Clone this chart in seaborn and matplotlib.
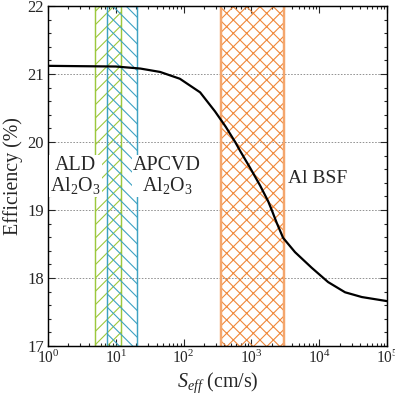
import numpy as np
import pandas as pd
import matplotlib
matplotlib.use('Agg')
import matplotlib.pyplot as plt
from matplotlib.ticker import MultipleLocator, LogLocator
import seaborn as sns

# curve
s_eff = [1, 3, 10, 23, 45, 88, 175, 290, 420, 575, 680, 955, 1340, 1760,
         1990, 2360, 2930, 4390, 7740, 13500, 24000, 42400, 100000]
efficiency = [21.12, 21.115, 21.11, 21.08, 21.03, 20.93, 20.73, 20.45, 20.22,
              20.0, 19.87, 19.62, 19.36, 19.13, 19.00, 18.81, 18.59, 18.38,
              18.15, 17.94, 17.79, 17.72, 17.66]

# shaded ranges (cm/s)
ald_range = [5, 12]
apcvd_range = [7.5, 20.5]
bsf_range = [350, 3050]

df = pd.DataFrame({'S': s_eff, 'eff': efficiency})

sns.set_theme(style='ticks')
plt.rcParams['font.family'] = ['serif']
plt.rcParams['font.serif'] = ['Liberation Serif', 'DejaVu Serif']
plt.rcParams['mathtext.fontset'] = 'custom'
plt.rcParams['mathtext.rm'] = 'Liberation Serif'
plt.rcParams['mathtext.it'] = 'Liberation Serif:italic'
plt.rcParams['hatch.linewidth'] = 1.0

fig = plt.figure(figsize=(395/80, 394/80), dpi=80)
ax = fig.add_axes([0.1215, 0.1218, 0.8585, 0.863])

ax.axvspan(ald_range[0], ald_range[1], facecolor='none', edgecolor='#9cc83c',
           hatch='//', linewidth=1.3, zorder=1)
ax.axvspan(apcvd_range[0], apcvd_range[1], facecolor='none', edgecolor='#3ea2c2',
           hatch='\\\\', linewidth=1.3, zorder=1)
ax.axvspan(bsf_range[0], bsf_range[1], facecolor='none', edgecolor='#f0883a',
           hatch='xx', linewidth=0, zorder=1)
for xv in bsf_range:
    ax.axvline(xv, color='#f4a66c', linewidth=2.2, zorder=1)

for yv in [18, 19, 20, 21]:
    ax.axhline(yv, color='#777777', linestyle=(0, (2, 2)), linewidth=0.7, zorder=0)

sns.lineplot(data=df, x='S', y='eff', color='black', linewidth=2, ax=ax, zorder=3)

ax.set_xscale('log')
ax.set_xlim(1, 1e5)
ax.set_ylim(17, 22)
ax.yaxis.set_major_locator(MultipleLocator(1))
ax.yaxis.set_minor_locator(MultipleLocator(0.2))
ax.xaxis.set_minor_locator(LogLocator(base=10, subs=np.arange(2, 10), numticks=20))

ax.tick_params(which='both', direction='in', top=True, right=True, width=1)
ax.tick_params(axis='y', labelsize=15)
ax.tick_params(axis='x', labelsize=14)
ax.tick_params(which='major', length=6)
ax.tick_params(which='minor', length=3)
for sp in ax.spines.values():
    sp.set_linewidth(1.3)
    sp.set_color('black')

ax.set_xlabel(r'$S_{eff}$ (cm/s)', fontsize=18, labelpad=3)
ax.set_ylabel('Efficiency (%)', fontsize=18, labelpad=4)

box = dict(facecolor='white', edgecolor='none', pad=1)
ax.text(2.55, 19.5, 'ALD\nAl$_2$O$_3$', fontsize=18, ha='center', va='center',
        linespacing=1.0, bbox=box, zorder=4)
ax.text(57, 19.5, 'APCVD\nAl$_2$O$_3$', fontsize=18, ha='center', va='center',
        linespacing=1.0, bbox=box, zorder=4)
ax.text(3500, 19.47, 'Al BSF', fontsize=17.5, ha='left', va='center', zorder=4)

fig.savefig('out.png', dpi=80)
